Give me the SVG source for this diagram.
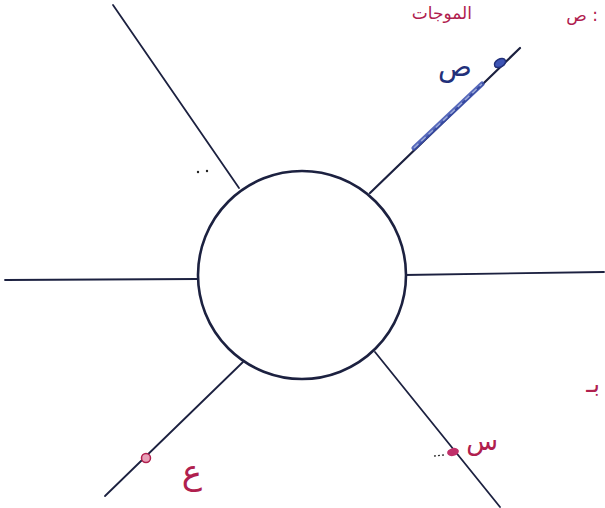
<svg xmlns="http://www.w3.org/2000/svg" width="605" height="508" viewBox="0 0 605 508">
  <defs>
    <style>
      .ln { stroke: #1c2140; stroke-width: 1.8; fill: none; stroke-linecap: round; }
      .ring { stroke: #1c2140; stroke-width: 2.6; fill: #ffffff; }
      .mag { fill: #b0204e; font-family: "DejaVu Sans", "Noto Sans", sans-serif; }
      .blue { fill: #22307a; font-family: "DejaVu Sans", "Noto Sans", sans-serif; }
    </style>
  </defs>
  <rect width="605" height="508" fill="#ffffff"/>

  <g id="connectors">
    <line class="ln" x1="113" y1="5" x2="239" y2="188"/>
    <line class="ln" x1="370" y1="193" x2="520" y2="48" style="stroke-width:2.2"/>
    <line class="ln" x1="5" y1="280" x2="198" y2="279"/>
    <line class="ln" x1="404" y1="275" x2="604" y2="272"/>
    <line class="ln" x1="243" y1="362" x2="105" y2="496"/>
    <line class="ln" x1="375" y1="352" x2="500" y2="507"/>
  </g>

  <g id="hub">
    <circle class="ring" cx="302" cy="275" r="104"/>
  </g>

  <g id="marker-sad">
    <line x1="414" y1="148" x2="482" y2="84" stroke="#3a4fb0" stroke-width="5" stroke-linecap="round" opacity="0.85"/>
    <line x1="414" y1="148" x2="482" y2="84" stroke="#9aa8d8" stroke-width="1.5" stroke-dasharray="6 4"/>
    <ellipse cx="500" cy="63" rx="6" ry="4" transform="rotate(-30 500 63)" fill="#3e55b5" stroke="#22307a" stroke-width="1.5"/>
    <text class="blue" x="455" y="76" font-size="28" text-anchor="middle">ص</text>
  </g>

  <g id="marker-sin">
    <ellipse cx="453" cy="452" rx="6" ry="4" transform="rotate(-15 453 452)" fill="#c0306a"/>
    <line x1="434" y1="456" x2="444" y2="455" stroke="#333" stroke-width="1.3" stroke-dasharray="2 2"/>
    <text class="mag" x="482" y="450" font-size="26" text-anchor="middle">س</text>
  </g>

  <g id="marker-ain">
    <circle cx="146" cy="458" r="4.5" fill="#e8a0b8" stroke="#b0204e" stroke-width="1.5"/>
    <text class="mag" x="192" y="484" font-size="34" text-anchor="middle">ع</text>
  </g>

  <g id="top-note">
    <text class="mag" x="472" y="19" font-size="17" text-anchor="end">الموجات</text>
    <text class="mag" x="598" y="21" font-size="17" text-anchor="end">ص :</text>
  </g>

  <g id="edge-note">
    <text class="mag" x="600" y="392" font-size="24" text-anchor="end">بـ</text>
  </g>

  <g id="specks">
    <circle cx="198" cy="172" r="1.2" fill="#222"/>
    <circle cx="207" cy="171" r="1.2" fill="#222"/>
  </g>
</svg>
